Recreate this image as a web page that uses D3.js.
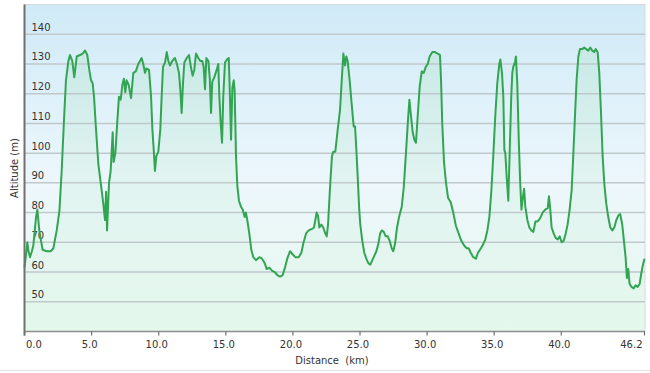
<!DOCTYPE html>
<head>
<style>
    body {
        margin: 0;
        background: #fff;
        font-family: "DejaVu Sans", Verdana, sans-serif;
    }
    .grid line {
        stroke: #bfc9cc;
        stroke-width: 1.5;
    }
    .tick-label {
        font-size: 10px;
        fill: #333;
    }
    .axis-title {
        font-size: 10px;
        fill: #333;
        white-space: pre;
    }
    .profile {
        fill: none;
        stroke: #32a552;
        stroke-width: 2;
        stroke-linejoin: round;
    }
</style>
</head>
<body>
</body>
<script src="https://d3js.org/d3.v7.min.js"></script>
<script>
// elevation profile
var distanceKm = [0, 0.12, 0.21, 0.3, 0.41, 0.55, 0.66, 0.86, 0.96, 1.1, 1.35, 1.65, 1.95, 2.15, 2.4, 2.6, 2.77, 2.94,
    3.09, 3.27, 3.39, 3.56, 3.71, 3.89, 4.14, 4.33, 4.51, 4.68, 4.83, 4.96, 5.08, 5.18, 5.33, 5.5, 5.68, 5.87,
    6.0, 6.08, 6.15, 6.3, 6.42, 6.57, 6.64, 6.77, 6.92, 7.04, 7.17, 7.29, 7.41, 7.51, 7.61, 7.76, 7.94, 8.11,
    8.29, 8.48, 8.73, 8.85, 8.98, 9.08, 9.28, 9.43, 9.53, 9.63, 9.72, 9.82, 9.97, 10.12, 10.22, 10.32, 10.47,
    10.6, 10.72, 10.84, 11.01, 11.21, 11.36, 11.51, 11.61, 11.71, 11.81, 11.91, 12.09, 12.26, 12.38, 12.53,
    12.65, 12.78, 12.95, 13.1, 13.25, 13.35, 13.45, 13.55, 13.7, 13.8, 13.9, 13.99, 14.14, 14.32, 14.44, 14.52,
    14.62, 14.72, 14.81, 14.94, 15.09, 15.22, 15.31, 15.39, 15.49, 15.59, 15.66, 15.76, 15.86, 15.98, 16.13,
    16.26, 16.41, 16.5, 16.6, 16.75, 16.9, 17.05, 17.25, 17.5, 17.7, 17.9, 18.05, 18.24, 18.44, 18.64, 18.84,
    19.04, 19.24, 19.41, 19.58, 19.78, 19.98, 20.18, 20.43, 20.63, 20.77, 20.98, 21.18, 21.42, 21.57, 21.67,
    21.77, 21.87, 21.97, 22.12, 22.26, 22.41, 22.52, 22.62, 22.76, 22.91, 23.01, 23.16, 23.34, 23.51, 23.64,
    23.76, 23.88, 23.98, 24.08, 24.23, 24.38, 24.53, 24.63, 24.73, 24.83, 24.93, 25.02, 25.17, 25.32, 25.47,
    25.62, 25.77, 25.92, 26.07, 26.22, 26.37, 26.5, 26.62, 26.77, 26.92, 27.07, 27.21, 27.36, 27.48, 27.61,
    27.76, 27.91, 28.11, 28.26, 28.41, 28.56, 28.68, 28.8, 28.93, 29.05, 29.17, 29.3, 29.45, 29.6, 29.75, 29.9,
    30.05, 30.19, 30.39, 30.59, 30.79, 30.96, 31.04, 31.13, 31.26, 31.41, 31.56, 31.76, 31.95, 32.15, 32.35,
    32.55, 32.75, 32.95, 33.1, 33.25, 33.44, 33.64, 33.79, 33.94, 34.14, 34.34, 34.49, 34.64, 34.79, 34.93,
    35.08, 35.23, 35.38, 35.46, 35.58, 35.68, 35.76, 35.83, 35.93, 36.05, 36.17, 36.27, 36.35, 36.42, 36.55,
    36.62, 36.72, 36.83, 36.93, 37.03, 37.13, 37.23, 37.32, 37.47, 37.62, 37.77, 37.92, 38.07, 38.22, 38.41,
    38.61, 38.8, 38.99, 39.08, 39.18, 39.28, 39.43, 39.58, 39.73, 39.88, 40.03, 40.18, 40.33, 40.47, 40.62,
    40.77, 40.89, 41.02, 41.14, 41.27, 41.39, 41.56, 41.71, 41.86, 42.01, 42.16, 42.31, 42.46, 42.56, 42.71,
    42.83, 42.96, 43.08, 43.2, 43.35, 43.5, 43.65, 43.8, 43.95, 44.1, 44.25, 44.39, 44.54, 44.69, 44.79, 44.89,
    44.99, 45.09, 45.24, 45.39, 45.54, 45.69, 45.84, 45.94, 46.04, 46.17, 46.2];

var altitudeM = [61.5, 66, 70, 67, 65, 67, 69, 78.5, 81, 74, 67.5, 67, 67, 68, 74, 80.5, 94, 111,
    124.5, 131, 133, 131, 125.5, 132.5, 133, 133.5, 134.5, 133, 128, 124.5, 123.5, 119, 108, 96.5, 90, 83,
    77.5, 87, 74, 90, 94, 107, 97, 100, 111, 119, 118, 123, 125, 120.5, 124.5, 123, 118.5, 127,
    127.5, 130, 132, 130, 127, 128.5, 128, 119, 108, 101, 94, 99, 100.5, 108, 119, 129, 130.5,
    134, 131, 129.5, 131, 132, 130, 127, 121.5, 113.5, 123.5, 130.5, 132, 133, 129.5, 126,
    128, 133.5, 132, 131, 131, 129, 121.5, 132, 131, 125.5, 113.5, 124, 125.5, 128, 130, 119,
    110, 103.5, 119, 130.5, 131.5, 132, 119, 104.5, 122, 124.5, 121, 99, 89, 84, 82,
    81, 78.5, 80, 77.5, 73, 67.5, 65, 64, 65, 64.5, 63, 61, 61.5, 60.5, 60, 59,
    58.5, 59, 61.5, 64.5, 67, 66, 65, 65, 66.5, 69.5, 73, 74, 74.5, 75, 77.5,
    80, 79, 75, 76, 75, 73, 72, 76, 88, 99, 100.5, 100.5, 108, 114.5, 124.5,
    133.5, 129.5, 132.5, 131, 124.5, 116.5, 109, 109, 101, 92, 82, 76, 70.5, 66.5, 64.5,
    63, 62.5, 64, 65.5, 67, 69.5, 73, 74, 73.5, 72, 72, 70.5, 68, 67, 69.5,
    75, 78.5, 82, 88.5, 99, 110, 118, 112.5, 107, 104.5, 103.5, 112.5, 122.5, 127.5, 127, 129,
    130, 132.5, 134, 134, 133.5, 133, 124.5, 110, 97, 90, 85, 83.5, 80, 75.5, 73,
    70.5, 69, 68, 68, 66.5, 65, 64.5, 66.5, 67.5, 69, 71, 74, 78.5, 87.5, 99,
    112.5, 123.5, 130, 131.5, 127, 119, 101, 100, 92, 84, 103, 119, 127, 129, 130.5,
    132.5, 123.5, 104.5, 91, 81, 85, 88, 82, 77.5, 75, 74, 73.5, 77, 77, 78,
    80, 81, 81.5, 85.5, 81, 75, 73, 71.5, 71, 72, 70, 70.5, 73, 76, 81,
    87.5, 99, 112.5, 124.5, 132.5, 135, 135, 135.5, 135, 134.5, 135.5, 134.5, 134, 135, 134,
    127, 113.5, 99, 90, 83, 78.5, 75, 74, 75, 77.5, 79, 79.5, 76, 69.5, 65, 58,
    61, 56, 55, 54.5, 55.5, 55, 56, 59, 61.5, 64, 64.5];

var altitudeTicks = [50, 60, 70, 80, 90, 100, 110, 120, 130, 140];
var distanceTicks = [0, 5, 10, 15, 20, 25, 30, 35, 40, 46.2];

var width = 650, height = 373;
var plot = {left: 24.5, right: 645, top: 4.5, bottom: 331.5};

var svg = d3.select("body").append("svg")
    .attr("width", width)
    .attr("height", height);

var x = d3.scaleLinear().domain([0, 46.2]).range([plot.left, 644.5]);
var y = d3.scaleLinear().domain([40, 150]).range([plot.bottom, plot.top]);

var defs = svg.append("defs");
var bg = defs.append("linearGradient")
    .attr("id", "bg")
    .attr("x1", "0%").attr("y1", "0%")
    .attr("x2", "0%").attr("y2", "100%");
bg.append("stop").attr("offset", "0%").attr("stop-color", "#cfeaf7");
bg.append("stop").attr("offset", "55%").attr("stop-color", "#edf7fc");
bg.append("stop").attr("offset", "100%").attr("stop-color", "#e6f8ed");

var fillGrad = defs.append("linearGradient")
    .attr("id", "areaFill")
    .attr("x1", "0%").attr("y1", "0%")
    .attr("x2", "0%").attr("y2", "100%");
fillGrad.append("stop").attr("offset", "0%").attr("stop-color", "#a6e0bb").attr("stop-opacity", 0.3);
fillGrad.append("stop").attr("offset", "100%").attr("stop-color", "#d6f3e0").attr("stop-opacity", 0.15);

// faint frame around the whole widget
svg.append("line")
    .attr("x1", 0).attr("x2", width)
    .attr("y1", 370.5).attr("y2", 370.5)
    .attr("stroke", "#e2e2e2");

svg.append("rect")
    .attr("x", plot.left)
    .attr("y", plot.top)
    .attr("width", plot.right - plot.left)
    .attr("height", plot.bottom - plot.top)
    .attr("fill", "url(#bg)")
    .attr("stroke", "#d6d9db")
    .attr("stroke-width", 1);

var data = distanceKm.map(function(d, i) { return {km: d, alt: altitudeM[i]}; });

svg.append("path")
    .datum(data)
    .attr("fill", "url(#areaFill)")
    .attr("d", d3.area()
        .x(function(d) { return x(d.km); })
        .y0(plot.bottom)
        .y1(function(d) { return y(d.alt); }));

svg.append("g")
    .attr("class", "grid")
    .selectAll("line")
    .data(altitudeTicks)
    .enter().append("line")
    .attr("x1", plot.left)
    .attr("x2", plot.right)
    .attr("y1", function(d) { return y(d); })
    .attr("y2", function(d) { return y(d); });

svg.append("g")
    .selectAll("text")
    .data(altitudeTicks)
    .enter().append("text")
    .attr("class", "tick-label")
    .attr("x", 31.5)
    .attr("y", function(d) { return y(d) - 3.5; })
    .text(function(d) { return d; });

svg.append("path")
    .datum(data)
    .attr("class", "profile")
    .attr("d", d3.line()
        .x(function(d) { return x(d.km); })
        .y(function(d) { return y(d.alt); }));

// axes
svg.append("line")
    .attr("x1", plot.left).attr("x2", plot.right)
    .attr("y1", plot.bottom).attr("y2", plot.bottom)
    .attr("stroke", "#8c8c8c")
    .attr("stroke-width", 1.5);

svg.append("line")
    .attr("x1", plot.left).attr("x2", plot.left)
    .attr("y1", plot.top).attr("y2", plot.bottom + 4)
    .attr("stroke", "#707070")
    .attr("stroke-width", 2);

var xt = svg.append("g").selectAll("g")
    .data(distanceTicks)
    .enter().append("g")
    .attr("transform", function(d) { return "translate(" + x(d) + ",0)"; });

xt.append("line")
    .attr("y1", plot.bottom).attr("y2", plot.bottom + 4)
    .attr("stroke", "#707070")
    .attr("stroke-width", 1.2);

xt.append("text")
    .attr("class", "tick-label")
    .attr("y", 347.5)
    .attr("text-anchor", function(d, i) {
        return i === 0 ? "start" : (i === distanceTicks.length - 1 ? "end" : "middle");
    })
    .attr("x", function(d, i) { return i === 0 ? 1.5 : -2; })
    .text(function(d) { return d.toFixed(1); });

svg.append("text")
    .attr("class", "axis-title")
    .attr("x", 332)
    .attr("y", 363.5)
    .attr("text-anchor", "middle")
    .text("Distance  (km)");

svg.append("text")
    .attr("class", "axis-title")
    .attr("transform", "translate(18," + ((plot.top + plot.bottom) / 2) + ") rotate(-90)")
    .attr("text-anchor", "middle")
    .text("Altitude (m)");
</script>
